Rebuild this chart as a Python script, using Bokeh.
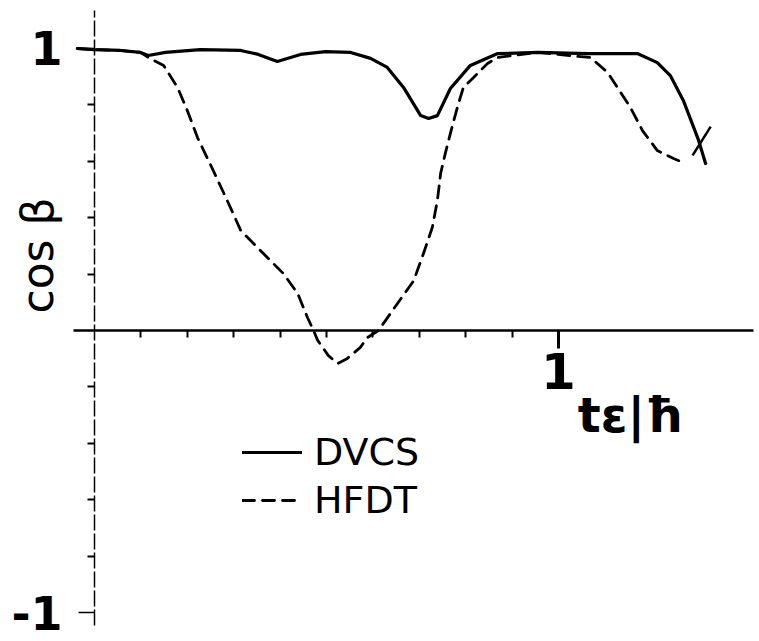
import math
from bokeh.plotting import figure
from bokeh.models import Range1d, LinearAxis, FixedTicker, Label, Legend, LegendItem
from bokeh.embed import file_html
from bokeh.resources import INLINE

# ---- data ----
t_dvcs = [-0.037, 0.0, 0.056, 0.099, 0.116, 0.153, 0.228, 0.315, 0.353, 0.394, 0.444, 0.498,
          0.552, 0.595, 0.631, 0.666, 0.703, 0.720, 0.739, 0.767, 0.810, 0.869, 0.955,
          1.063, 1.170, 1.213, 1.241, 1.269, 1.302, 1.317]
c_dvcs = [1.0, 0.996, 0.993, 0.986, 0.975, 0.986, 0.996, 0.993, 0.979, 0.954, 0.979, 0.989,
          0.986, 0.965, 0.933, 0.862, 0.762, 0.752, 0.762, 0.858, 0.940, 0.982, 0.986,
          0.982, 0.982, 0.950, 0.904, 0.816, 0.674, 0.592]

t_hfdt = [-0.037, 0.0, 0.056, 0.099, 0.116, 0.149, 0.179, 0.200, 0.222, 0.256, 0.293, 0.315,
          0.364, 0.407, 0.438, 0.459, 0.472, 0.481, 0.504, 0.524, 0.545, 0.573, 0.588,
          0.612, 0.653, 0.688, 0.709, 0.728, 0.739, 0.746, 0.756, 0.767, 0.782, 0.795,
          0.817, 0.847, 0.869, 0.955, 1.069, 1.106, 1.127, 1.155, 1.181, 1.213, 1.248, 1.274]
c_hfdt = [1.0, 0.996, 0.993, 0.986, 0.968, 0.940, 0.862, 0.780, 0.684, 0.567, 0.436, 0.355,
          0.273, 0.202, 0.131, 0.046, 0.0, -0.035, -0.089, -0.117, -0.099, -0.060, -0.025,
          0.0, 0.096, 0.177, 0.273, 0.365, 0.461, 0.557, 0.628, 0.699, 0.791, 0.862,
          0.897, 0.947, 0.968, 0.986, 0.968, 0.915, 0.862, 0.791, 0.709, 0.638, 0.610, 0.592]

# small hand-drawn cross stroke at the end of the curves
cross_t = [1.289, 1.328]
cross_c = [0.621, 0.723]

x_major = [1]
x_minor = [0.1, 0.2, 0.3, 0.4, 0.5, 0.6, 0.7, 0.8, 0.9]
y_major = [-1, 1]
y_minor = [-0.8, -0.6, -0.4, -0.2, 0.2, 0.4, 0.6, 0.8]
y_tick_text = {-1: "-1", 1: "1"}

x_label = "tε|ħ"
y_label = "cos β"

p = figure(width=759, height=641, output_backend="svg", toolbar_location=None,
           x_range=Range1d(-0.2026, 1.4332), y_range=Range1d(-1.1028, 1.1702),
           x_axis_type=None, y_axis_type=None, min_border=0)
p.outline_line_color = None
p.background_fill_color = "white"

xaxis = LinearAxis(fixed_location=0, ticker=FixedTicker(ticks=x_major, minor_ticks=x_minor),
                   bounds=(-0.045, 1.42))
xaxis.axis_line_width = 2.5
xaxis.axis_line_color = "black"
xaxis.major_tick_out = 18
xaxis.major_tick_in = 0
xaxis.major_tick_line_width = 3
xaxis.minor_tick_out = 7
xaxis.minor_tick_in = 0
xaxis.minor_tick_line_width = 2
xaxis.major_label_text_font = "DejaVu Sans"
xaxis.major_label_text_font_size = "50px"
xaxis.major_label_text_font_style = "bold"
xaxis.major_label_text_color = "black"
xaxis.major_label_standoff = 4
p.add_layout(xaxis, "below")

yaxis = LinearAxis(fixed_location=0, ticker=FixedTicker(ticks=y_major, minor_ticks=y_minor),
                   bounds=(-1.046, 1.135))
yaxis.major_label_overrides = y_tick_text
yaxis.axis_line_width = 1.5
yaxis.axis_line_dash = "16 3"
yaxis.major_tick_out = 16
yaxis.major_tick_in = 0
yaxis.major_tick_line_width = 1.5
yaxis.minor_tick_out = 7
yaxis.minor_tick_in = 0
yaxis.minor_tick_line_width = 2
yaxis.major_label_text_font = "DejaVu Sans"
yaxis.major_label_text_font_size = "46px"
yaxis.major_label_text_font_style = "bold"
yaxis.major_label_text_color = "black"
yaxis.major_label_standoff = 16
p.add_layout(yaxis, "left")

r_h = p.line(t_hfdt, c_hfdt, line_color="black", line_width=2.8, line_dash="12 8",
             line_join="round", line_cap="round")
r_d = p.line(t_dvcs, c_dvcs, line_color="black", line_width=3.2, line_join="round",
             line_cap="round")
p.line(cross_t, cross_c, line_color="black", line_width=2.5)

p.add_layout(Label(x=-0.123, y=0.266, text=y_label, angle=math.pi / 2,
                   text_align="center", text_baseline="middle",
                   text_font="DejaVu Sans", text_font_size="44px", text_color="black"))
p.add_layout(Label(x=1.155, y=-0.30, text=x_label,
                   text_align="center", text_baseline="middle",
                   text_font="DejaVu Sans", text_font_size="48px", text_font_style="bold",
                   text_color="black"))

legend = Legend(items=[LegendItem(label="DVCS", renderers=[r_d]),
                       LegendItem(label="HFDT", renderers=[r_h])],
                location=(242, 119), orientation="vertical")
legend.padding = 0
legend.margin = 0
legend.spacing = 4
legend.glyph_width = 60
legend.glyph_height = 40
legend.label_height = 40
legend.label_standoff = 12
legend.label_text_font = "DejaVu Sans"
legend.label_text_font_size = "38px"
legend.label_text_color = "black"
legend.border_line_alpha = 0
legend.background_fill_alpha = 0
p.add_layout(legend, "center")

open("out.html", "w").write(file_html(p, INLINE))
